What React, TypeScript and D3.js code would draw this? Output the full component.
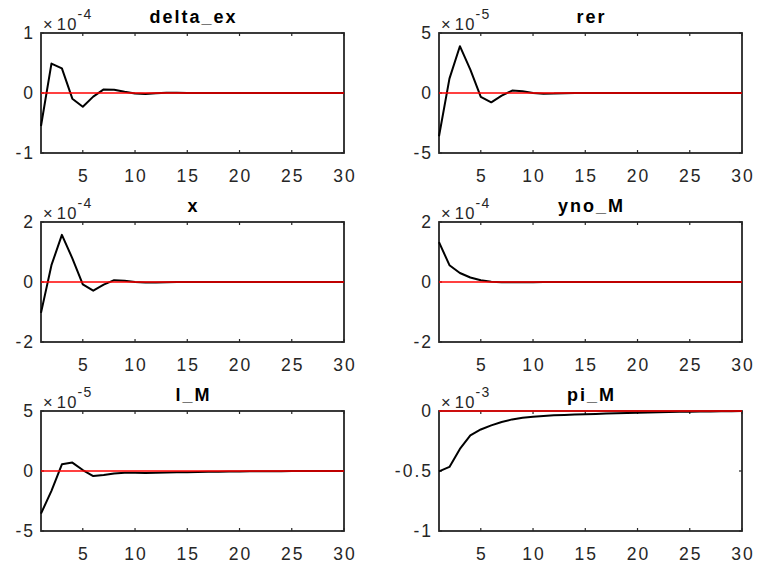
import React from "react";
import * as d3 from "d3";

const periods = d3.range(1, 31);

const titles = ["delta_ex", "rer", "x", "yno_M", "l_M", "pi_M"];
const exponents = ["-4", "-5", "-4", "-4", "-5", "-3"];
const yDomains: [number, number][] = [[-1, 1], [-5, 5], [-2, 2], [-2, 2], [-5, 5], [-1, 0]];
const yTicks: number[][] = [[-1, 0, 1], [-5, 0, 5], [-2, 0, 2], [-2, 0, 2], [-5, 0, 5], [-1, -0.5, 0]];
const xTicks = [5, 10, 15, 20, 25, 30];

// values in units of the panel's exponent
const deltaEx = [-0.55, 0.49, 0.41, -0.095, -0.23, -0.06, 0.06, 0.055, 0.02, -0.01, -0.015, -0.005, 0.005, 0.003, 0.002, 0.001, 0, 0, 0, 0, 0, 0, 0, 0, 0, 0, 0, 0, 0, 0];
const rer = [-3.6, 1.2, 3.9, 1.95, -0.33, -0.78, -0.22, 0.2, 0.14, 0, -0.06, -0.05, -0.02, 0, 0.01, 0.01, 0, 0, 0, 0, 0, 0, 0, 0, 0, 0, 0, 0, 0, 0];
const xVar = [-1.03, 0.56, 1.57, 0.79, -0.08, -0.29, -0.09, 0.06, 0.045, 0, -0.02, -0.02, -0.01, 0, 0, 0, 0, 0, 0, 0, 0, 0, 0, 0, 0, 0, 0, 0, 0, 0];
const ynoM = [1.33, 0.56, 0.3, 0.15, 0.06, 0.01, -0.01, -0.01, -0.005, -0.005, -0.004, -0.003, -0.002, -0.002, -0.001, -0.001, 0, 0, 0, 0, 0, 0, 0, 0, 0, 0, 0, 0, 0, 0];
const lM = [-3.55, -1.65, 0.56, 0.7, 0.08, -0.42, -0.34, -0.2, -0.14, -0.14, -0.16, -0.15, -0.13, -0.11, -0.1, -0.08, -0.07, -0.06, -0.05, -0.04, -0.03, -0.03, -0.02, -0.02, -0.01, -0.01, -0.01, 0, 0, 0];
const piM = [-0.503, -0.466, -0.316, -0.204, -0.154, -0.12, -0.092, -0.07, -0.056, -0.047, -0.042, -0.036, -0.033, -0.03, -0.027, -0.024, -0.021, -0.019, -0.017, -0.015, -0.013, -0.011, -0.009, -0.007, -0.006, -0.005, -0.004, -0.003, -0.002, -0.001];

const series = [deltaEx, rer, xVar, ynoM, lM, piM];

const W = 758;
const H = 566;
const colLefts = [41, 439];
const panelW = 303;
const rowTops = [33, 222, 411];
const panelH = 120;
const axisColor = "#262626";
const font = "'Liberation Sans', Arial, Helvetica, sans-serif";
const tickFs = 17.5;
const tickLs = 2;

function Panel({ idx }: { idx: number }) {
  const col = idx % 2;
  const row = Math.floor(idx / 2);
  const left = colLefts[col];
  const top = rowTops[row];
  const x = d3.scaleLinear().domain([1, 30]).range([left, left + panelW]);
  const y = d3.scaleLinear().domain(yDomains[idx]).range([top + panelH, top]);
  const data = series[idx];
  const line = d3
    .line<number>()
    .x((_, i) => x(periods[i]))
    .y((d) => y(d));
  const bottom = top + panelH;
  const right = left + panelW;
  const tl = 3;
  const fmt = (v: number) => (v === 0 ? "0" : String(v));
  return (
    <g>
      {xTicks.map((t) => (
        <g key={"xt" + t}>
          <line x1={x(t)} x2={x(t)} y1={bottom} y2={bottom - tl} stroke={axisColor} strokeWidth={1.2} />
          <line x1={x(t)} x2={x(t)} y1={top} y2={top + tl} stroke={axisColor} strokeWidth={1.2} />
          <text
            x={x(t) + tickLs / 2}
            y={bottom + 29}
            textAnchor="middle"
            fontSize={tickFs}
            letterSpacing={tickLs}
            fill={axisColor}
            fontFamily={font}
          >
            {t}
          </text>
        </g>
      ))}
      {yTicks[idx].map((t) => (
        <g key={"yt" + t}>
          <line x1={left} x2={left + tl} y1={y(t)} y2={y(t)} stroke={axisColor} strokeWidth={1.2} />
          <line x1={right} x2={right - tl} y1={y(t)} y2={y(t)} stroke={axisColor} strokeWidth={1.2} />
          <text
            x={left - 8 + tickLs}
            y={y(t)}
            dy="0.36em"
            textAnchor="end"
            fontSize={tickFs}
            letterSpacing={tickLs}
            fill={axisColor}
            fontFamily={font}
          >
            {fmt(t)}
          </text>
        </g>
      ))}
      <rect x={left} y={top} width={panelW} height={panelH} fill="none" stroke={axisColor} strokeWidth={1.8} />
      <path d={line(data) || ""} fill="none" stroke="#000" strokeWidth={2} strokeLinejoin="round" />
      <line x1={x(1)} x2={x(30)} y1={y(0)} y2={y(0)} stroke="#ff0000" strokeWidth={1.5} />
      <text x={left + 2} y={top - 3} fontSize={16.5} letterSpacing={1.2} fill={axisColor} fontFamily={font}>
        <tspan>×</tspan>
        <tspan dx={3}>10</tspan>
        <tspan dy={-11} fontSize={14}>{exponents[idx]}</tspan>
      </text>
      <text
        x={(left + right) / 2 + 1}
        y={top - 10}
        textAnchor="middle"
        fontSize={18}
        letterSpacing={2}
        fontWeight="bold"
        fill="#000"
        fontFamily={font}
      >
        {titles[idx]}
      </text>
    </g>
  );
}

export default function App() {
  return (
    <svg
      width={W}
      height={H}
      viewBox={`0 0 ${W} ${H}`}
      style={{ position: "absolute", left: 0, top: 0, background: "#fff" }}
    >
      <rect x={0} y={0} width={W} height={H} fill="#fff" />
      {titles.map((_, i) => (
        <Panel key={i} idx={i} />
      ))}
    </svg>
  );
}
